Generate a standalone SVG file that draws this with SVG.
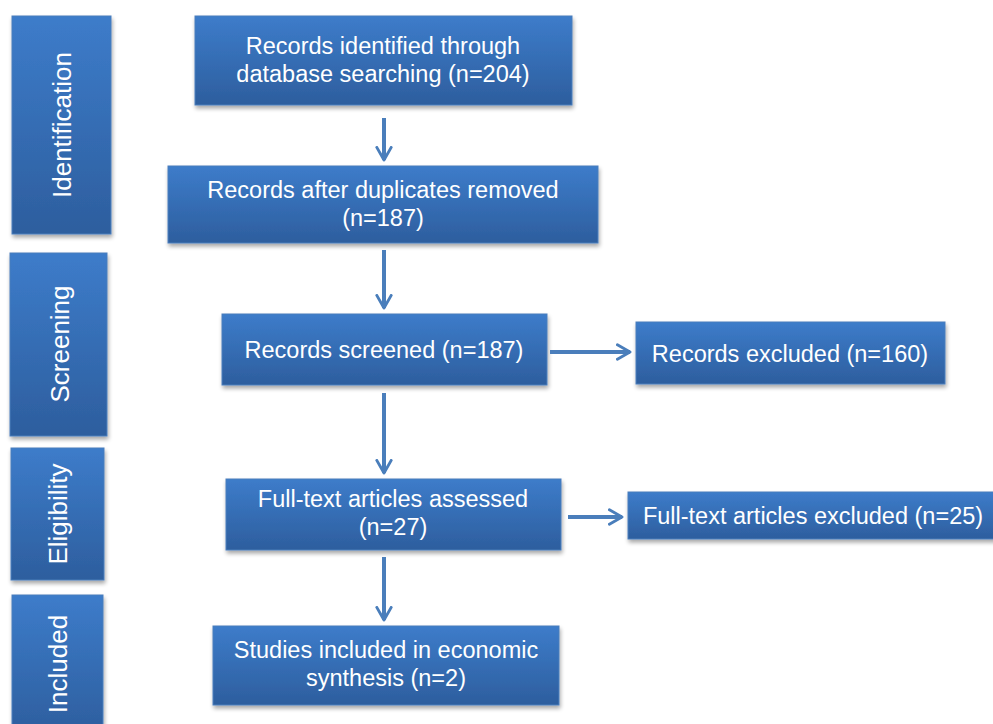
<svg xmlns="http://www.w3.org/2000/svg" width="993" height="724" viewBox="0 0 993 724">
<defs>
<linearGradient id="g" x1="0" y1="0" x2="0" y2="1">
<stop offset="0" stop-color="#3d7cca"/>
<stop offset="1" stop-color="#2d5e9e"/>
</linearGradient>
<filter id="sh" x="-10%" y="-10%" width="120%" height="130%">
<feGaussianBlur in="SourceAlpha" stdDeviation="2"/>
<feOffset dx="1" dy="3"/>
<feComponentTransfer><feFuncA type="linear" slope="0.35"/></feComponentTransfer>
<feMerge><feMergeNode/><feMergeNode in="SourceGraphic"/></feMerge>
</filter>
<marker id="ah" viewBox="0 0 10 10" refX="8" refY="5" markerWidth="4.5" markerHeight="4.5" orient="auto" markerUnits="strokeWidth">
<path d="M1,1 L8,5 L1,9" fill="none" stroke="#4a7ebb" stroke-width="1.6" stroke-linecap="round" stroke-linejoin="round"/>
</marker>
</defs>
<style>
.box{fill:url(#g);stroke:#4a7ebb;stroke-width:1;filter:url(#sh)}
.t{font-family:"Liberation Sans",Arial,sans-serif;font-size:23.5px;fill:#ffffff;text-anchor:middle}
.lt{font-family:"Liberation Sans",Arial,sans-serif;font-size:26px;fill:#ffffff;text-anchor:middle}
.c{stroke:#4a7ebb;stroke-width:4;fill:none;marker-end:url(#ah)}
</style>
<rect width="993" height="724" fill="#ffffff"/>
<g id="phase-identification"><rect class="box" x="12" y="16" width="99" height="218"/><text class="lt" transform="translate(71,125) rotate(-90)">Identification</text></g>
<g id="phase-screening"><rect class="box" x="10" y="253" width="97" height="183"/><text class="lt" transform="translate(69,344) rotate(-90)">Screening</text></g>
<g id="phase-eligibility"><rect class="box" x="11" y="448" width="93" height="132"/><text class="lt" transform="translate(67,514) rotate(-90)">Eligibility</text></g>
<g id="phase-included"><rect class="box" x="12" y="595" width="91" height="140"/><text class="lt" transform="translate(67,664) rotate(-90)">Included</text></g>
<g id="n1"><rect class="box" x="195" y="16" width="377" height="89"/><text class="t" x="383" y="54">Records identified through</text><text class="t" x="383" y="82">database searching (n=204)</text></g>
<g id="n2"><rect class="box" x="168" y="166" width="430" height="77"/><text class="t" x="383" y="198">Records after duplicates removed</text><text class="t" x="383" y="226">(n=187)</text></g>
<g id="n3"><rect class="box" x="222" y="314" width="325" height="71"/><text class="t" x="384" y="358">Records screened (n=187)</text></g>
<g id="n4"><rect class="box" x="636" y="322" width="309" height="62"/><text class="t" x="790" y="362">Records excluded (n=160)</text></g>
<g id="n5"><rect class="box" x="226" y="479" width="335" height="71"/><text class="t" x="393" y="507">Full-text articles assessed</text><text class="t" x="393" y="535">(n=27)</text></g>
<g id="n6"><rect class="box" x="628" y="492" width="370" height="47"/><text class="t" x="813" y="524">Full-text articles excluded (n=25)</text></g>
<g id="n7"><rect class="box" x="213" y="626" width="346" height="79"/><text class="t" x="386" y="658">Studies included in economic</text><text class="t" x="386" y="686">synthesis (n=2)</text></g>
<g id="connectors">
<line class="c" x1="384" y1="118" x2="384" y2="160"/>
<line class="c" x1="384" y1="250" x2="384" y2="308"/>
<line class="c" x1="550" y1="352" x2="630" y2="352"/>
<line class="c" x1="384" y1="393" x2="384" y2="473"/>
<line class="c" x1="568" y1="517" x2="622" y2="517"/>
<line class="c" x1="384" y1="557" x2="384" y2="620"/>
</g>
</svg>
